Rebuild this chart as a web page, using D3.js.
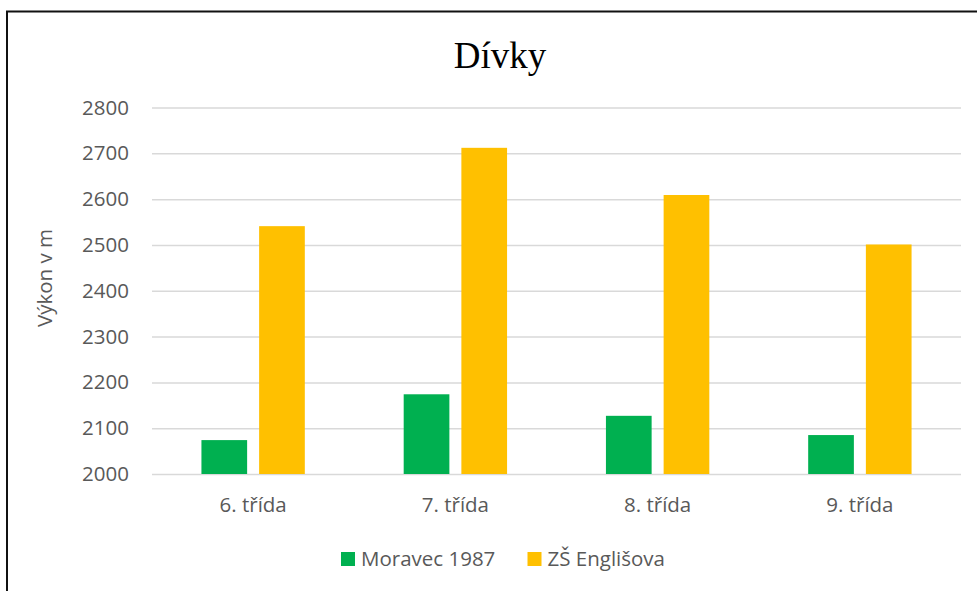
<!DOCTYPE html>
<html>
<head>
<meta charset="utf-8">
<script src="https://cdn.jsdelivr.net/npm/d3@7"></script>
<style>
  html, body { margin: 0; padding: 0; background: #fff; }
  svg { display: block; }
  text { font-family: "Open Sans", "Noto Sans", sans-serif; }
</style>
</head>
<body>
<svg id="chart" width="977" height="591"></svg>
<script>
// Běh – výkon dívek podle ročníku
const categories = ["6. třída", "7. třída", "8. třída", "9. třída"];
const seriesNames = ["Moravec 1987", "ZŠ Englišova"];
const moravec = [2074, 2174, 2127, 2085];
const englisova = [2541, 2712, 2609, 2501];
const yTicks = [2000, 2100, 2200, 2300, 2400, 2500, 2600, 2700, 2800];
const colors = ["#00B050", "#FFC000"];

const svg = d3.select("#chart");
const W = 977, H = 591;
const margin = { left: 152, right: 16, top: 107.5, bottom: 117 };
const labelSize = "20.5px";

// frame
svg.append("rect")
  .attr("x", 7).attr("y", 11.5)
  .attr("width", W + 20).attr("height", H + 20)
  .attr("fill", "#fff").attr("stroke", "#111").attr("stroke-width", 2);

const x = d3.scaleBand()
  .domain(categories)
  .range([margin.left, W - margin.right])
  .paddingInner(0).paddingOuter(0);

const x1 = d3.scaleBand()
  .domain(seriesNames)
  .range([0, x.bandwidth()])
  .paddingInner(0.208).paddingOuter(0.857);

const y = d3.scaleLinear()
  .domain([2000, 2800])
  .range([H - margin.bottom, margin.top]);

// gridlines
const yAxis = d3.axisLeft(y)
  .tickValues(yTicks)
  .tickSize(-(W - margin.left - margin.right))
  .tickPadding(23)
  .tickFormat(d3.format("d"));

const gy = svg.append("g")
  .attr("transform", `translate(${margin.left},0)`)
  .call(yAxis);
gy.select(".domain").remove();
gy.selectAll(".tick line").attr("stroke", "#D9D9D9").attr("stroke-width", 1.5);
gy.selectAll(".tick text")
  .attr("fill", "#595959")
  .style("font-size", labelSize);

// bars
const data = categories.map((c, i) => ({ cat: c, values: [moravec[i], englisova[i]] }));
const groups = svg.append("g").selectAll("g")
  .data(data).join("g")
  .attr("transform", d => `translate(${x(d.cat)},0)`);

groups.selectAll("rect")
  .data(d => d.values.map((v, j) => ({ name: seriesNames[j], v, j })))
  .join("rect")
  .attr("x", d => x1(d.name))
  .attr("width", x1.bandwidth())
  .attr("y", d => y(d.v))
  .attr("height", d => y(2000) - y(d.v))
  .attr("fill", d => colors[d.j]);

// category axis labels
const xAxis = d3.axisBottom(x).tickSize(0).tickPadding(23);
const gx = svg.append("g")
  .attr("transform", `translate(0,${y(2000)})`)
  .call(xAxis);
gx.select(".domain").remove();
gx.selectAll(".tick text")
  .attr("fill", "#595959")
  .style("font-size", labelSize);

// title
svg.append("text")
  .attr("x", 500).attr("y", 68)
  .attr("text-anchor", "middle")
  .style("font-family", "'Liberation Serif', 'Times New Roman', serif")
  .style("font-size", "37px")
  .attr("fill", "#000")
  .text("Dívky");

// y axis title
svg.append("text")
  .attr("transform", "translate(52,278) rotate(-90)")
  .attr("text-anchor", "middle")
  .attr("fill", "#595959")
  .style("font-size", "20.5px")
  .text("Výkon v m");

// legend
const legendItems = [
  { name: seriesNames[0], color: colors[0], x: 341 },
  { name: seriesNames[1], color: colors[1], x: 527.5 }
];
const lg = svg.append("g").selectAll("g")
  .data(legendItems).join("g")
  .attr("transform", d => `translate(${d.x},552)`);
lg.append("rect").attr("width", 14).attr("height", 14).attr("fill", d => d.color);
lg.append("text")
  .attr("x", 20).attr("y", 14)
  .attr("fill", "#595959")
  .style("font-size", labelSize)
  .text(d => d.name);
</script>
</body>
</html>
